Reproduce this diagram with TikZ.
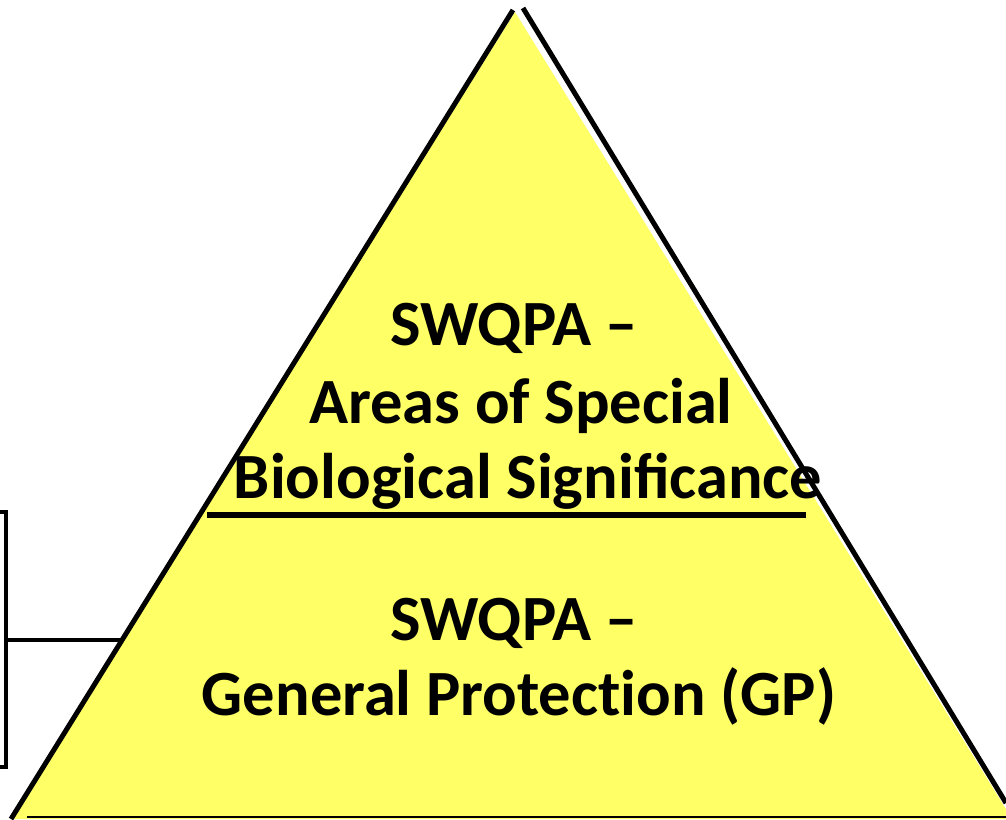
\documentclass[tikz,border=0pt]{standalone}
\usepackage{fontspec}
\setmainfont{Carlito}
\usepackage{tikz}
\usetikzlibrary{positioning}
\definecolor{pyramidyellow}{RGB}{255,255,102}

\begin{document}
\begin{tikzpicture}[x=1pt,y=-1pt,
		edge/.style={line width=5pt},
		bracket/.style={line width=4pt},
		label text/.style={font=\bfseries\fontsize{64.5}{78}\selectfont,inner sep=0pt,anchor=base}]
		
		\useasboundingbox (0,0) rectangle (1006,819);
		
		% pyramid
		\coordinate (apexL) at (513,10);
		\coordinate (apexR) at (523,8);
		\coordinate (baseL) at (11,819);
		\coordinate (baseR) at (1006,803);
		\fill[pyramidyellow] (baseL) -- (515,12) -- (1012,819) -- cycle;
		\draw[edge] (baseL) -- (apexL);
		\draw[edge] (apexR) -- (baseR);
		\draw[line width=2pt] (27,817) -- (1006,817);
		
		% divider
		\coordinate (divL) at (207,515);
		\coordinate (divR) at (806,515);
		\draw[line width=5.5pt] (divL) -- (divR);
		
		% bracket on the left
		\coordinate (brTop) at (6,512);
		\coordinate (brBot) at (6,767);
		\coordinate (brMid) at (6,640);
		\coordinate (hitL) at (122,640);
		\draw[bracket] (0,512) -- (brTop) -- (brBot) -- (0,767);
		\draw[bracket] (brMid) -- (hitL);
		
		% upper tier
		\node[label text] (swqpaTop) at (514,345) {SWQPA --};
		\node[label text] (areasLine) at (521,423) {Areas of Special};
		\node[label text] (bioLine) at (528,498) {Biological Significance};
		
		% lower tier
		\node[label text] (swqpaGP) at (514,640) {SWQPA --};
		\node[label text] (gpLine) at (519,715) {General Protect\kern0pt ion (GP)};
		\end{tikzpicture}
\end{document}
